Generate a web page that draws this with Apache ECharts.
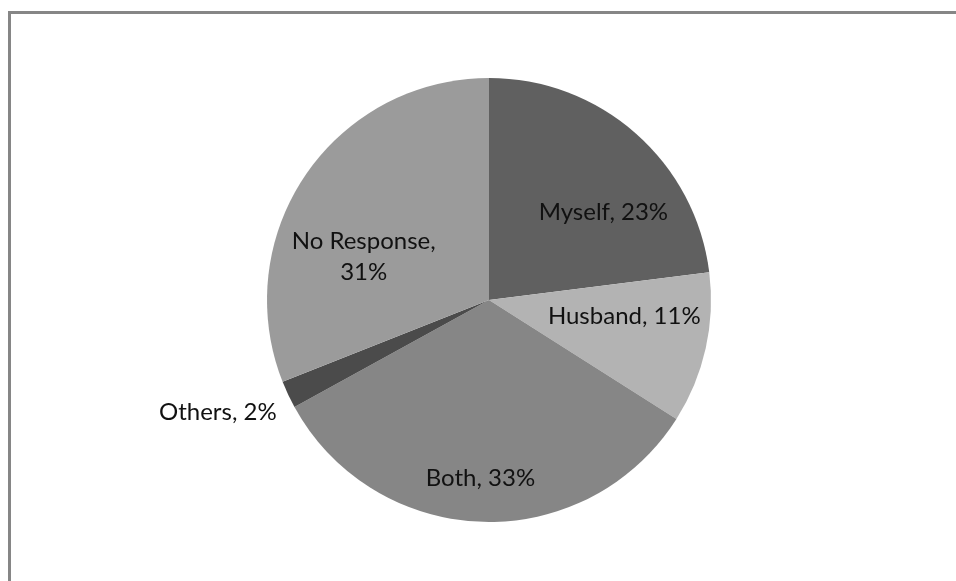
<!DOCTYPE html>
<html>
<head>
<meta charset="utf-8">
<script src="https://cdn.jsdelivr.net/npm/echarts@6/dist/echarts.min.js"></script>
<style>
html,body{margin:0;padding:0;background:#fff;}
#chart{width:956px;height:581px;}
</style>
</head>
<body>
<div id="chart"></div>
<script>
const categories = ['Myself', 'Husband', 'Both', 'Others', 'No Response'];
const values = [23, 11, 33, 2, 31];
const sliceColors = ['#606060', '#b3b3b3', '#868686', '#4b4b4b', '#9b9b9b'];
const labelOffsets = [[39, -2], [24, -9], [-5, 64], [-168, 64], [-31, 21]];

const chart = echarts.init(document.getElementById('chart'), null, {renderer: 'canvas'});
const data = categories.map((name, i) => ({
  name: name,
  value: values[i],
  itemStyle: {color: sliceColors[i]},
  label: {offset: labelOffsets[i]}
}));

chart.setOption({
  animation: false,
  backgroundColor: '#ffffff',
  graphic: [
    {type: 'line', shape: {x1: 8, y1: 12.5, x2: 956, y2: 12.5}, style: {stroke: '#868686', lineWidth: 3}, silent: true},
    {type: 'line', shape: {x1: 9.5, y1: 11, x2: 9.5, y2: 581}, style: {stroke: '#868686', lineWidth: 3}, silent: true}
  ],
  series: [{
    type: 'pie',
    center: [489, 300],
    radius: 222,
    startAngle: 90,
    clockwise: true,
    avoidLabelOverlap: false,
    itemStyle: {borderWidth: 0},
    emphasis: {disabled: true},
    labelLine: {show: false},
    label: {
      show: true,
      position: 'inside',
      fontFamily: 'Lato',
      fontSize: 24,
      color: '#111',
      lineHeight: 31,
      formatter: function (p) {
        if (p.name === 'No Response') return p.name + ',\n' + p.value + '%';
        return p.name + ', ' + p.value + '%';
      }
    },
    data: data
  }]
});
</script>
</body>
</html>
